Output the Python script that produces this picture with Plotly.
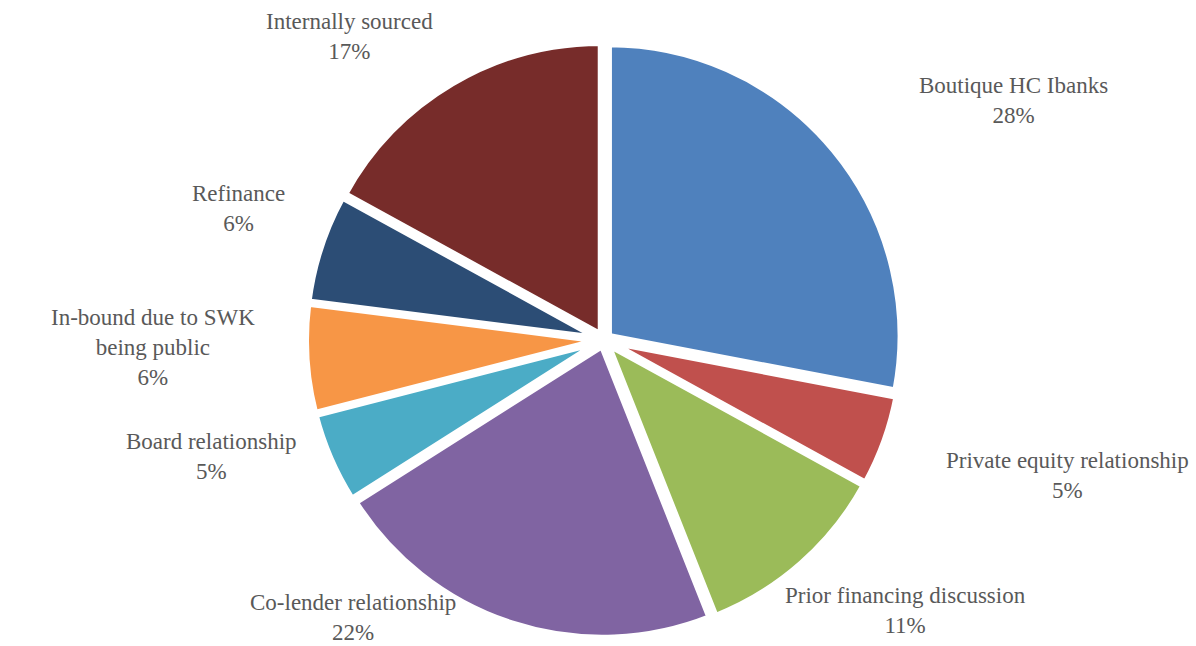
import plotly.graph_objects as go

labels = ["Boutique HC Ibanks", "Private equity relationship", "Prior financing discussion",
          "Co-lender relationship", "Board relationship", "In-bound due to SWK<br>being public",
          "Refinance", "Internally sourced"]
values = [28, 5, 11, 22, 5, 6, 6, 17]
colors = ["#4F81BD", "#C0504D", "#9BBB59", "#8064A2", "#4BACC6", "#F79646", "#2C4D75", "#772C2A"]

# label placement in pixels (layout only)
label_x = [1013, 1067, 905, 353, 211, 153, 238, 349]
label_y = [100, 475, 610, 617, 456, 347, 208, 36]

W, H = 1196, 646
ML, MR, MT, MB = 12, 0, 42, 8
total = sum(values)

fig = go.Figure(go.Pie(
    labels=labels, values=values, sort=False, direction="clockwise", rotation=0,
    marker=dict(colors=colors, line=dict(color="white", width=6)),
    pull=[0.022] * len(values),
    textinfo="none", showlegend=False, hoverinfo="label+percent",
))

for lab, v, x, y in zip(labels, values, label_x, label_y):
    fig.add_annotation(
        x=(x - ML) / (W - ML - MR), y=(H - MB - y) / (H - MT - MB),
        xref="paper", yref="paper",
        text=f"{lab}<br>{round(100 * v / total)}%", showarrow=False,
        xanchor="center", yanchor="middle", align="center",
        font=dict(family="Liberation Serif", size=23, color="#595959"),
    )

fig.update_layout(width=W, height=H, margin=dict(l=ML, r=MR, t=MT, b=MB),
                  paper_bgcolor="white", plot_bgcolor="white")
fig.write_html("out.html")
